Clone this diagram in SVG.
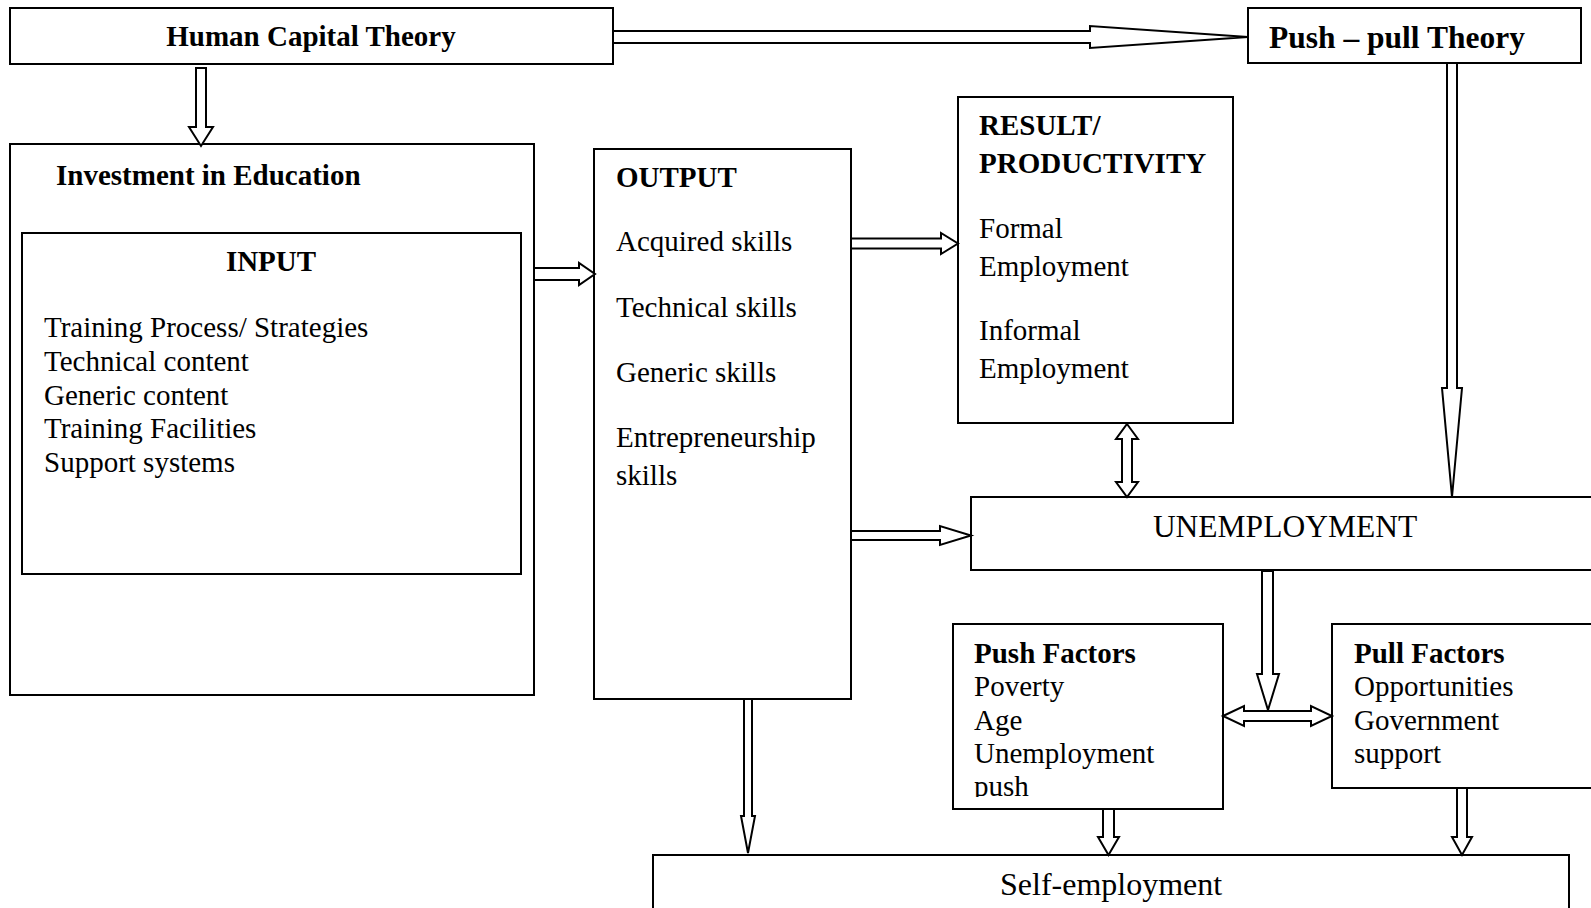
<svg xmlns="http://www.w3.org/2000/svg" width="1591" height="908" viewBox="0 0 1591 908">
<style>
.box{fill:#fff;stroke:#000;stroke-width:2}
.arr{fill:#fff;stroke:#000;stroke-width:2;stroke-linejoin:miter}
text{font-family:"Liberation Serif","Times New Roman",serif;fill:#000}
.b{font-weight:bold;font-size:29px}
.r{font-size:29px}
</style>
<defs>
<clipPath id="pushclip"><rect x="953" y="624" width="270" height="173"/></clipPath>
</defs>
<rect width="1591" height="908" fill="#fff"/>

<g id="human-capital">
<rect class="box" x="10" y="8" width="603" height="56"/>
<text class="b" x="311" y="46" text-anchor="middle">Human Capital Theory</text>
</g>

<g id="push-pull-theory">
<rect class="box" x="1248" y="8" width="333" height="55"/>
<text class="b" x="1269" y="48" style="font-size:31.5px">Push – pull Theory</text>
</g>

<g id="investment">
<rect class="box" x="10" y="144" width="524" height="551"/>
<text class="b" x="56" y="185">Investment in Education</text>
</g>

<g id="input">
<rect class="box" x="22" y="233" width="499" height="341"/>
<text class="b" x="271" y="271" text-anchor="middle">INPUT</text>
<text class="r" x="44" y="337">Training Process/ Strategies</text>
<text class="r" x="44" y="370.5">Technical content</text>
<text class="r" x="44" y="404.5">Generic content</text>
<text class="r" x="44" y="438">Training Facilities</text>
<text class="r" x="44" y="472">Support systems</text>
</g>

<g id="output">
<rect class="box" x="594" y="149" width="257" height="550"/>
<text class="b" x="616" y="187">OUTPUT</text>
<text class="r" x="616" y="251">Acquired skills</text>
<text class="r" x="616" y="317">Technical skills</text>
<text class="r" x="616" y="382">Generic skills</text>
<text class="r" x="616" y="447">Entrepreneurship</text>
<text class="r" x="616" y="485">skills</text>
</g>

<g id="result">
<rect class="box" x="958" y="97" width="275" height="326"/>
<text class="b" x="979" y="135">RESULT/</text>
<text class="b" x="979" y="173">PRODUCTIVITY</text>
<text class="r" x="979" y="238">Formal</text>
<text class="r" x="979" y="276">Employment</text>
<text class="r" x="979" y="340">Informal</text>
<text class="r" x="979" y="378">Employment</text>
</g>

<g id="unemployment">
<rect class="box" x="971" y="497" width="640" height="73"/>
<text x="1285" y="537" text-anchor="middle" style="font-size:31.5px">UNEMPLOYMENT</text>
</g>

<g id="push-factors">
<rect class="box" x="953" y="624" width="270" height="185"/>
<g clip-path="url(#pushclip)">
<text class="b" x="974" y="663">Push Factors</text>
<text class="r" x="974" y="696">Poverty</text>
<text class="r" x="974" y="729.5">Age</text>
<text class="r" x="974" y="763">Unemployment</text>
<text class="r" x="974" y="796">push</text>
</g>
</g>

<g id="pull-factors">
<rect class="box" x="1332" y="624" width="280" height="164"/>
<text class="b" x="1354" y="663">Pull Factors</text>
<text class="r" x="1354" y="696">Opportunities</text>
<text class="r" x="1354" y="729.5">Government</text>
<text class="r" x="1354" y="763">support</text>
</g>

<g id="self-employment">
<rect class="box" x="653" y="855" width="916" height="70"/>
<text x="1000" y="895" style="font-size:32px">Self-employment</text>
</g>

<g id="connectors">
<polygon class="arr" points="196,68 206,68 206,127 213,127 201,146 189,127 196,127"/>
<polygon class="arr" points="613,31 1090,31 1090,26 1248,37 1090,48 1090,43 613,43"/>
<polygon class="arr" points="1447,63 1457,63 1457,388 1462,388 1452,497 1442,388 1447,388"/>
<polygon class="arr" points="534,268 579,268 579,263 595,274 579,285 579,280 534,280"/>
<polygon class="arr" points="851,238.5 941,238.5 941,233 958,243.5 941,254 941,248.5 851,248.5"/>
<polygon class="arr" points="851,531 940,531 940,526 971,535.5 940,545 940,540 851,540"/>
<polygon class="arr" points="1127,424 1138,439 1132,439 1132,482 1138,482 1127,497 1116,482 1122,482 1122,439 1116,439"/>
<polygon class="arr" points="1262,571 1273,571 1273,674 1279,674 1268,710 1257,674 1262,674"/>
<polygon class="arr" points="1223,716 1244,706 1244,711 1311,711 1311,706 1332,716 1311,726 1311,721 1244,721 1244,726"/>
<polygon class="arr" points="1103,809 1114,809 1114,837 1119,837 1108.5,855 1098,837 1103,837"/>
<polygon class="arr" points="1457,788 1467,788 1467,837 1472,837 1462,855 1452,837 1457,837"/>
<polygon class="arr" points="744,699 752,699 752,816 755,816 748,853 741,816 744,816"/>
</g>
</svg>
